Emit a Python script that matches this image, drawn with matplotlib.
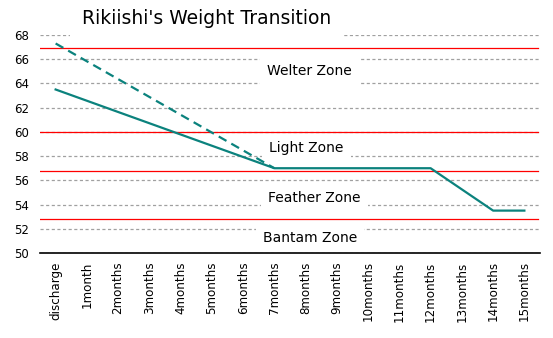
import numpy as np
import matplotlib
matplotlib.use("Agg")
import matplotlib.pyplot as plt

# data
months = ["discharge", "1month", "2months", "3months", "4months", "5months",
          "6months", "7months", "8months", "9months", "10months", "11months",
          "12months", "13months", "14months", "15months"]
weight = [63.5, None, None, None, None, None, None, 57.0, 57.0, 57.0,
          57.0, 57.0, 57.0, None, 53.5, 53.5]
weight_plan = [67.3, None, None, None, None, None, None, 57.0, None, None,
               None, None, None, None, None, None]
zone_limits = [66.9, 60.0, 56.75, 52.8]
zone_names = ["Welter Zone", "Light Zone", "Feather Zone", "Bantam Zone"]

TEAL = "#0b827d"

fig = plt.figure(figsize=(5.53, 3.38), dpi=100)
ax = fig.add_axes([40 / 553, 1 - 253 / 338, 500 / 553, (253 - 35) / 338])

x = np.arange(len(months))


def valid(series):
    # skip gaps, matplotlib then joins the points on both sides
    idx = [i for i, v in enumerate(series) if v is not None]
    return idx, [series[i] for i in idx]


xi, yi = valid(weight)
ax.plot(xi, yi, color=TEAL, lw=1.6, zorder=4)
xi, yi = valid(weight_plan)
ax.plot(xi, yi, color=TEAL, lw=1.6, ls=(0, (4, 2.5)), zorder=4)

for lim in zone_limits:
    ax.axhline(lim, xmax=0.996, color="red", lw=0.9, zorder=2)

ax.set_xlim(-0.5, len(months) - 0.5)
ax.set_ylim(50, 68)
ax.set_yticks(np.arange(50, 69, 2))
ax.set_xticks(x)
ax.set_xticklabels(months, rotation=90, fontsize=8.6)
ax.tick_params(axis="y", labelsize=8.5, length=0, pad=8)
ax.tick_params(axis="x", length=0, pad=6)
ax.yaxis.grid(True, color="#a0a0a0", lw=0.9, ls=(0, (2.5, 2)), zorder=1)
ax.set_axisbelow(True)
for s in ["top", "right", "left"]:
    ax.spines[s].set_visible(False)
ax.spines["bottom"].set_color("black")
ax.spines["bottom"].set_linewidth(1.2)

# zone labels with white boxes over the grid
zone_pos = [(8.12, 65.0), (8.03, 58.7), (8.28, 54.55), (8.15, 51.25)]
for name, (px, py) in zip(zone_names, zone_pos):
    ax.text(px, py, name, fontsize=10, ha="center", va="center", zorder=3,
            bbox=dict(facecolor="white", edgecolor="none", pad=5))

fig.text(207 / 553, 1 - 19 / 338, "Rikiishi's Weight Transition", fontsize=13.5,
         ha="center", va="center",
         bbox=dict(facecolor="white", edgecolor="none", pad=9))

fig.savefig("out.png", dpi=100)
